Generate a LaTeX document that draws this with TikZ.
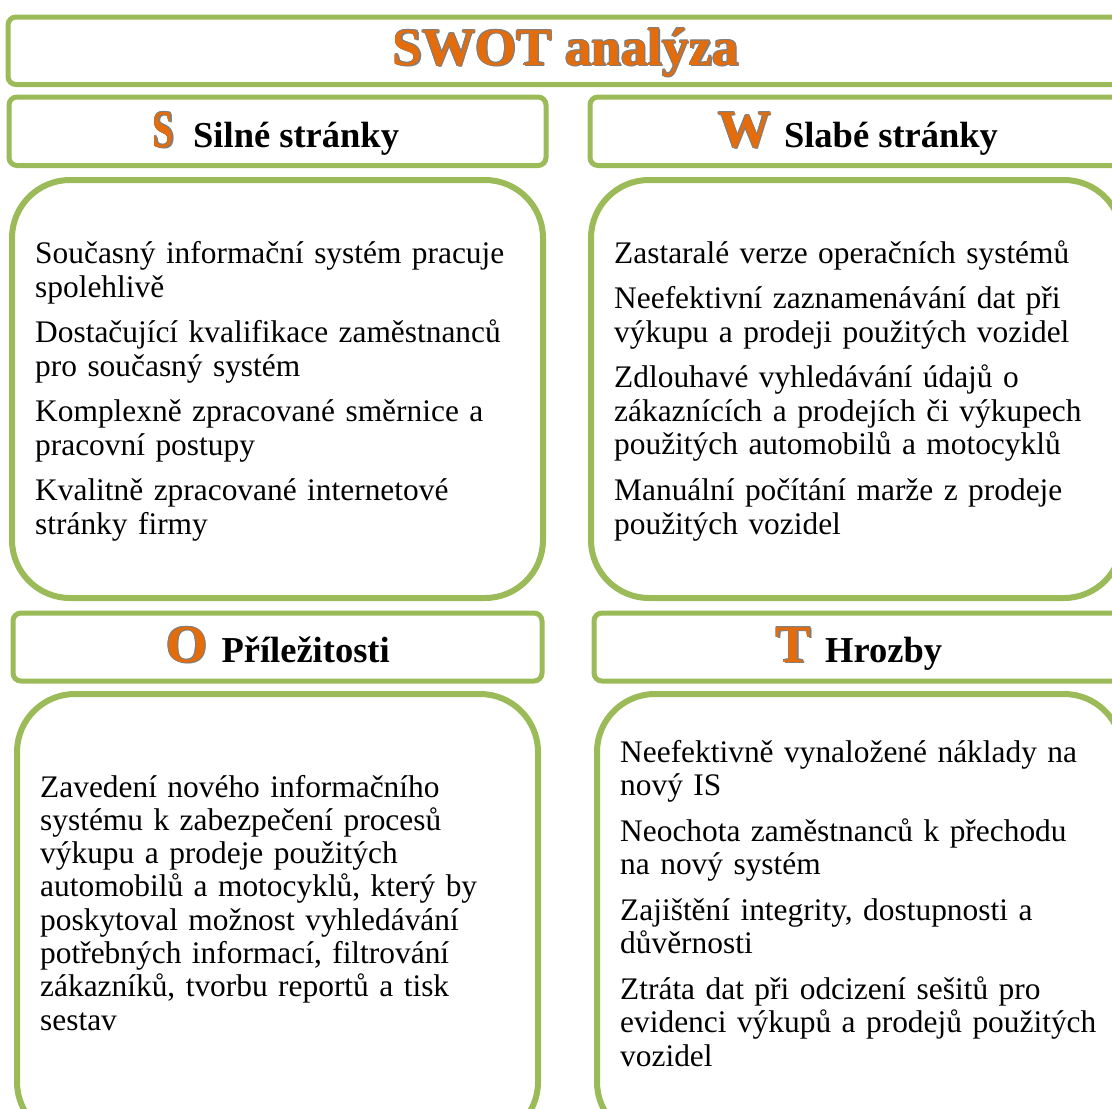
\documentclass[tikz,border=0pt]{standalone}
\usepackage{fontspec}
\usepackage{graphicx}
\setmainfont{Liberation Serif}
\definecolor{boxgreen}{HTML}{9BBB59}
\definecolor{waorange}{HTML}{E46C0A}
\definecolor{wagray}{HTML}{7F7F7F}
\newcommand\wacopy[3]{\rlap{\raisebox{#2}{\hspace*{#1}\textcolor{wagray}{#3}}}}
\newcommand\wa[1]{\leavevmode
  \wacopy{1.3pt}{-1.3pt}{#1}%
  \wacopy{0.8pt}{0pt}{#1}\wacopy{-0.8pt}{0pt}{#1}%
  \wacopy{0pt}{0.8pt}{#1}\wacopy{0pt}{-0.8pt}{#1}%
  \wacopy{0.55pt}{0.55pt}{#1}\wacopy{-0.55pt}{0.55pt}{#1}%
  \wacopy{0.55pt}{-0.55pt}{#1}\wacopy{-0.55pt}{-0.55pt}{#1}%
  \textcolor{waorange}{#1}}
\newcommand\hdr[3]{{\fontsize{53}{60}\selectfont\bfseries\wa{#1}}\hspace{#2}{\fontsize{36.5}{40}\selectfont\bfseries #3}}
\tikzset{
  hbox/.style={draw=boxgreen, line width=5pt, rounded corners=8pt},
  bbox/.style={draw=boxgreen, line width=6pt, rounded corners=58pt},
  body/.style={anchor=base west, inner sep=0pt, text width=520pt, align=left},
  head/.style={anchor=base, inner sep=0pt},
}
\begin{document}
\begin{tikzpicture}[x=1pt, y=-1pt]
\useasboundingbox (0,0) rectangle (1112,1109);
\clip (0,0) rectangle (1112,1109);
\fill[white] (0,0) rectangle (1112,1109);
% frames
\path[hbox] (8,17) rectangle (1122,84.5);
\path[hbox] (9,97) rectangle (546,165.5);
\path[hbox] (590,97) rectangle (1126,165.5);
\path[bbox] (12,180) rectangle (543,598);
\path[bbox] (591,180) rectangle (1122,598);
\path[hbox] (13,613) rectangle (542,681);
\path[hbox] (594,613) rectangle (1126,681);
\path[bbox] (17,694) rectangle (538,1140);
\path[bbox] (597,694) rectangle (1122,1140);
% title
\node[head] (title) at (566,65) {\fontsize{53}{60}\selectfont\bfseries\wa{SWOT analýza}};
% headers
\node[head] (hs) at (276,147) {\hdr{\scalebox{0.72}[1]{S}}{19pt}{Silné stránky}};
\node[head] (hw) at (858,147) {\hdr{W}{13pt}{Slabé stránky}};
\node[head] (ho) at (278,662) {\hdr{O}{14pt}{Příležitosti}};
\node[head] (ht) at (859,662) {\hdr{T}{14pt}{Hrozby}};
% bodies
\node[body, font={\fontsize{31.4}{34.2}\selectfont}] (ts) at (35,263) {Současný informační systém pracuje\\
spolehlivě\\[10.8pt]
Dostačující kvalifikace zaměstnanců\\
pro současný systém\\[10.8pt]
Komplexně zpracované směrnice a\\
pracovní postupy\\[10.8pt]
Kvalitně zpracované internetové\\
stránky firmy};
\node[body, font={\fontsize{31.4}{33.5}\selectfont}] (tw) at (614,263) {Zastaralé verze operačních systémů\\[12.2pt]
Neefektivní zaznamenávání dat při\\
výkupu a prodeji použitých vozidel\\[12.2pt]
Zdlouhavé vyhledávání údajů o\\
zákaznících a prodejích či výkupech\\
použitých automobilů a motocyklů\\[12.2pt]
Manuální počítání marže z prodeje\\
použitých vozidel};
\node[body, font={\fontsize{31.4}{33.3}\selectfont}] (to) at (40,797) {Zavedení nového informačního\\
systému k zabezpečení procesů\\
výkupu a prodeje použitých\\
automobilů a motocyklů, který by\\
poskytoval možnost vyhledávání\\
potřebných informací, filtrování\\
zákazníků, tvorbu reportů a tisk\\
sestav};
\node[body, font={\fontsize{31.4}{33.5}\selectfont}] (tt) at (620,762) {Neefektivně vynaložené náklady na\\
nový IS\\[12pt]
Neochota zaměstnanců k přechodu\\
na nový systém\\[12pt]
Zajištění integrity, dostupnosti a\\
důvěrnosti\\[12pt]
Ztráta dat při odcizení sešitů pro\\
evidenci výkupů a prodejů použitých\\
vozidel};
\end{tikzpicture}
\end{document}
